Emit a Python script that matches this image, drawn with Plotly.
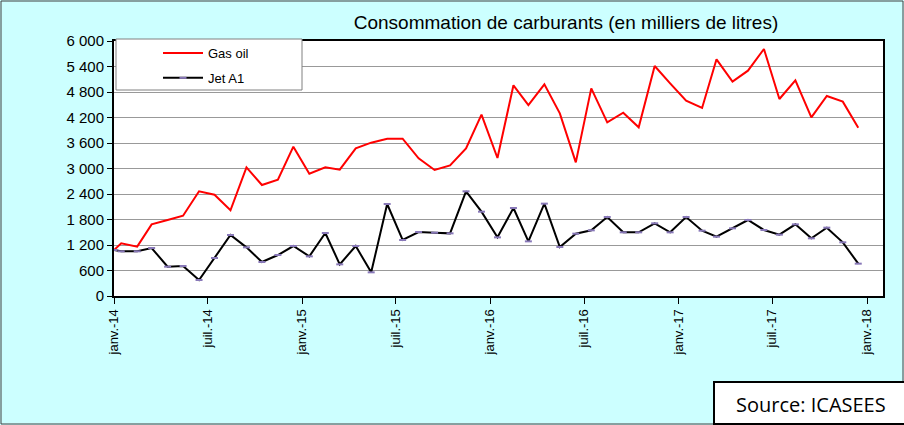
import plotly.graph_objects as go

# Dates: first point at start of Jan 2014, then mid-month points Jan 2014 .. Dec 2017
dates = ["2014-01-01"] + [f"{y}-{m:02d}-15" for y in range(2014, 2018) for m in range(1, 13)]

gas_oil = [1082, 1239, 1161, 1686, 1788, 1890, 2463, 2384, 2016, 3027, 2612, 2737,
           3514, 2878, 3027, 2972, 3474, 3608, 3702, 3702, 3239, 2965, 3074, 3474,
           4267, 3247, 4957, 4494, 4980, 4298, 3145, 4886, 4086, 4314, 3969, 5412,
           5004, 4596, 4424, 5569, 5043, 5302, 5812, 4635, 5074, 4204, 4706, 4573, 3961]

jet_a1 = [1082, 1051, 1051, 1129, 690, 706, 376, 894, 1435, 1145, 800, 965,
          1176, 933, 1482, 745, 1176, 557, 2165, 1318, 1506, 1490, 1474, 2463,
          1984, 1380, 2071, 1286, 2173, 1153, 1467, 1545, 1859, 1498, 1498, 1710,
          1498, 1859, 1537, 1396, 1592, 1788, 1553, 1443, 1686, 1357, 1608, 1263, 761]

tick_dates = ["2014-01-01", "2014-07-01", "2015-01-01", "2015-07-01", "2016-01-01",
              "2016-07-01", "2017-01-01", "2017-07-01", "2018-01-01"]
tick_labels = ["janv.-14", "juil.-14", "janv.-15", "juil.-15", "janv.-16",
               "juil.-16", "janv.-17", "juil.-17", "janv.-18"]

FONT = "Liberation Sans, Arial, sans-serif"

fig = go.Figure()
fig.add_trace(go.Scatter(
    x=dates, y=gas_oil, name="Gas oil", mode="lines",
    line=dict(color="#FF0000", width=2), legendgroup="g1"))
fig.add_trace(go.Scatter(
    x=dates, y=jet_a1, name="Jet A1", mode="lines+markers",
    line=dict(color="#000000", width=2),
    marker=dict(symbol="line-ew", size=5, line=dict(color="#8878B8", width=2)),
    legendgroup="g2"))

W, H = 904, 425
L, R, T, B = 114, 883, 41, 296

def px_x(p):
    return (p - L) / (R - L)

def px_y(p):
    return (B - p) / (B - T)

shapes = [
    # legend box
    dict(type="rect", xref="paper", yref="paper",
         x0=px_x(116), x1=px_x(302), y0=px_y(90), y1=px_y(39),
         fillcolor="white", line=dict(color="#808080", width=1), layer="above"),
    # outer image border
    dict(type="rect", xref="paper", yref="paper",
         x0=px_x(1), x1=px_x(903), y0=px_y(424), y1=px_y(1),
         line=dict(color="#404040", width=1)),
    # source box
    dict(type="rect", xref="paper", yref="paper",
         x0=px_x(714), x1=px_x(906), y0=px_y(424), y1=px_y(382),
         fillcolor="white", line=dict(color="black", width=2)),
]

fig.update_layout(
    width=W, height=H,
    margin=dict(l=L, r=W - R, t=T, b=H - B),
    paper_bgcolor="#CCFFFF", plot_bgcolor="white",
    separators=", ",
    font=dict(family=FONT, color="black", size=14),
    title=dict(text="Consommation de carburants (en milliers de litres)",
               font=dict(family=FONT, size=19, color="black"),
               x=566 / W, xref="container", xanchor="center",
               y=1 - 22 / H, yref="container", yanchor="middle"),
    showlegend=True,
    legend=dict(x=px_x(158), y=px_y(38), xanchor="left", yanchor="top",
                bgcolor="rgba(0,0,0,0)", borderwidth=0,
                font=dict(family=FONT, size=13, color="black"),
                tracegroupgap=5, itemwidth=40),
    shapes=shapes,
    annotations=[dict(text="Source: ICASEES", xref="paper", yref="paper",
                      x=px_x(811), y=px_y(404), xanchor="center", yanchor="middle",
                      showarrow=False,
                      font=dict(family="Open Sans, Liberation Sans, sans-serif", size=20, color="black"))],
)

fig.update_xaxes(
    type="date", range=["2014-01-01", "2018-02-01"],
    tickvals=tick_dates, ticktext=tick_labels, tickangle=-90,
    ticks="outside", ticklen=6, tickcolor="black", tickwidth=1,
    tickfont=dict(family=FONT, size=13, color="black"),
    showgrid=False, showline=True, linecolor="black", linewidth=2, mirror=True,
    zeroline=False)
fig.update_yaxes(
    range=[0, 6000], dtick=600, tick0=0, tickformat=",d",
    ticks="outside", ticklen=5, tickcolor="black", tickwidth=1,
    tickfont=dict(family=FONT, size=15, color="black"),
    showgrid=True, gridcolor="#999999", gridwidth=1,
    showline=True, linecolor="black", linewidth=2, mirror=True,
    zeroline=False)

fig.write_html("out.html", config={"displayModeBar": False},
               post_script="document.body.style.margin='0';")
